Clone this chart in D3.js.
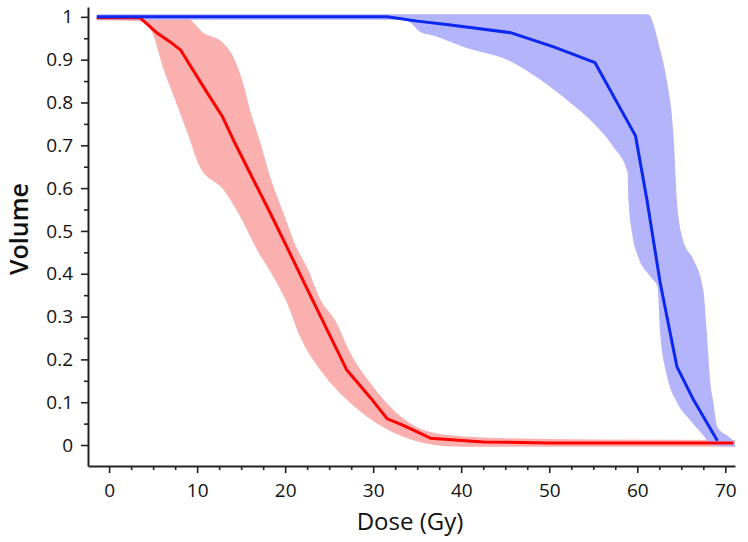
<!DOCTYPE html>
<html>
<head>
<meta charset="utf-8">
<script src="https://d3js.org/d3.v7.min.js"></script>
<style>
  html, body { margin: 0; padding: 0; background: #fff; }
  svg { display: block; }
</style>
</head>
<body>
<svg id="chart" width="748" height="542"></svg>
<script>
// ---- Data ----
const xTicks = [0, 10, 20, 30, 40, 50, 60, 70];
const yTicks = [0, 0.1, 0.2, 0.3, 0.4, 0.5, 0.6, 0.7, 0.8, 0.9, 1];
const yTickLabels = ["0", "0.1", "0.2", "0.3", "0.4", "0.5", "0.6", "0.7", "0.8", "0.9", "1"];
const xTitle = "Dose (Gy)";
const yTitle = "Volume";

// Red structure: mean DVH
const redDose = [-1.4, 3.5, 5.4, 6.9, 8.1, 10.7, 12.9, 14.1, 16.4, 18.3, 20.2, 22.3, 23.6, 25.1, 27.0, 29.9, 31.6, 33.3, 36.5, 42.5, 50, 70.9];
const redVol  = [0.998, 0.998, 0.963, 0.942, 0.923, 0.837, 0.766, 0.713, 0.619, 0.542, 0.462, 0.373, 0.318, 0.255, 0.175, 0.105, 0.061, 0.047, 0.016, 0.007, 0.005, 0.005];
// Red band upper edge
const redUpDose = [-1.4, 8.6, 10.7, 12.9, 14.1, 15.2, 16.0, 17.2, 18.3, 19.8, 21.4, 22.6, 24.0, 25.7, 27.4, 30.0, 32.3, 35.7, 38.8, 45, 55, 71.1];
const redUpVol  = [1.0, 1.0, 0.963, 0.94, 0.907, 0.846, 0.783, 0.705, 0.626, 0.542, 0.456, 0.41, 0.34, 0.29, 0.215, 0.136, 0.082, 0.035, 0.023, 0.016, 0.013, 0.012];
// Red band lower edge
const redLoDose = [-1.4, 3.5, 4.9, 6.1, 7.5, 8.9, 10.3, 13.0, 14.9, 16.8, 18.6, 20.2, 21.7, 24.0, 27.4, 31.1, 35.7, 40, 71.1];
const redLoVol  = [0.992, 0.99, 0.963, 0.883, 0.806, 0.729, 0.65, 0.596, 0.533, 0.456, 0.395, 0.332, 0.252, 0.175, 0.098, 0.042, 0.005, -0.004, -0.004];

// Blue structure: mean DVH
const blueDose = [-1.4, 31.6, 35.0, 38.8, 45.6, 50.5, 55.2, 59.8, 61.1, 62.6, 64.5, 66.4, 69.1];
const blueVol  = [1.0, 1.0, 0.99, 0.981, 0.963, 0.93, 0.893, 0.722, 0.572, 0.379, 0.183, 0.105, 0.01];
// Blue band upper edge
const blueUpDose = [-1.4, 61.2, 62.6, 63.4, 64.1, 64.5, 65.2, 66.4, 67.5, 67.9, 68.3, 68.6, 69.1, 70.6, 71.1];
const blueUpVol  = [1.006, 1.006, 0.923, 0.846, 0.729, 0.572, 0.479, 0.432, 0.362, 0.262, 0.145, 0.105, 0.042, 0.016, 0.005];
// Blue band lower edge
const blueLoDose = [-1.4, 33.0, 34.3, 35.3, 37.0, 40.2, 45.9, 49.0, 52.0, 55.0, 57.3, 58.9, 59.0, 59.4, 60.1, 61.5, 62.3, 62.6, 63.4, 64.5, 66.0, 67.9, 68.3, 71.1];
const blueLoVol  = [0.993, 0.993, 0.985, 0.965, 0.955, 0.93, 0.893, 0.853, 0.806, 0.752, 0.696, 0.636, 0.572, 0.495, 0.439, 0.393, 0.369, 0.262, 0.159, 0.1, 0.058, 0.012, 0.0, -0.004];

// ---- Drawing ----
const svg = d3.select("#chart");
const x = d3.scaleLinear().domain([-2.4, 71.1]).range([88, 735]);
const y = d3.scaleLinear().domain([-0.049, 1.023]).range([466, 7]);

const pts = (ds, vs) => ds.map((d, i) => [d, vs[i]]);
const line = d3.line().x(d => x(d[0])).y(d => y(d[1]));
const smooth = d3.line().x(d => x(d[0])).y(d => y(d[1])).curve(d3.curveMonotoneX);

function bandPath(upD, upV, loD, loV) {
  const up = smooth(pts(upD, upV));
  const lo = smooth(pts(loD, loV).reverse()).replace(/^M/, "L");
  return up + lo + "Z";
}

svg.append("path")
  .attr("d", bandPath(redUpDose, redUpVol, redLoDose, redLoVol))
  .attr("fill", "#fbb0b0").attr("stroke", "none");
svg.append("path")
  .attr("d", bandPath(blueUpDose, blueUpVol, blueLoDose, blueLoVol))
  .attr("fill", "#b4b4fa").attr("stroke", "none");

svg.append("path")
  .attr("d", line(pts(redDose, redVol)))
  .attr("fill", "none").attr("stroke", "#ff0000").attr("stroke-width", 3)
  .attr("stroke-linejoin", "round");
svg.append("path")
  .attr("d", line(pts(blueDose, blueVol)))
  .attr("fill", "none").attr("stroke", "#0a28f0").attr("stroke-width", 3)
  .attr("stroke-linejoin", "round");

// Axes
const font = "'Open Sans', 'DejaVu Sans', sans-serif";
const xMinor = d3.range(2.5, 70, 2.5).filter(v => v % 10 !== 0);
const yMinor = d3.range(0.05, 1.0, 0.1);

const gx = svg.append("g").attr("transform", `translate(0,${y.range()[0]})`);
gx.call(d3.axisBottom(x).tickValues(xTicks).tickSize(7).tickPadding(11).tickFormat(d3.format("d")).tickSizeOuter(0));
const gxm = svg.append("g").attr("transform", `translate(0,${y.range()[0]})`);
gxm.call(d3.axisBottom(x).tickValues(xMinor).tickSize(4).tickFormat("").tickSizeOuter(0));

const gy = svg.append("g").attr("transform", `translate(${x.range()[0]},0)`);
gy.call(d3.axisLeft(y).tickValues(yTicks).tickSize(7).tickPadding(8)
  .tickFormat((d, i) => yTickLabels[i]).tickSizeOuter(0));
const gym = svg.append("g").attr("transform", `translate(${x.range()[0]},0)`);
gym.call(d3.axisLeft(y).tickValues(yMinor).tickSize(4).tickFormat("").tickSizeOuter(0));

[gx, gxm, gy, gym].forEach(g => {
  g.selectAll(".domain").attr("stroke", "#222").attr("stroke-width", 2);
  g.selectAll(".tick line").attr("stroke", "#222").attr("stroke-width", 1.6);
  g.selectAll("text").attr("font-family", font).attr("font-size", 19).attr("fill", "#111");
});
gxm.select(".domain").remove();
gym.select(".domain").remove();

// Titles
svg.append("text")
  .attr("x", 410).attr("y", 530)
  .attr("text-anchor", "middle")
  .attr("font-family", font).attr("font-size", 24).attr("font-weight", 500).attr("fill", "#111")
  .text(xTitle);
svg.append("text")
  .attr("transform", "translate(28,229) rotate(-90)")
  .attr("text-anchor", "middle")
  .attr("font-family", font).attr("font-size", 25).attr("font-weight", 600).attr("fill", "#111")
  .text(yTitle);
</script>
</body>
</html>
